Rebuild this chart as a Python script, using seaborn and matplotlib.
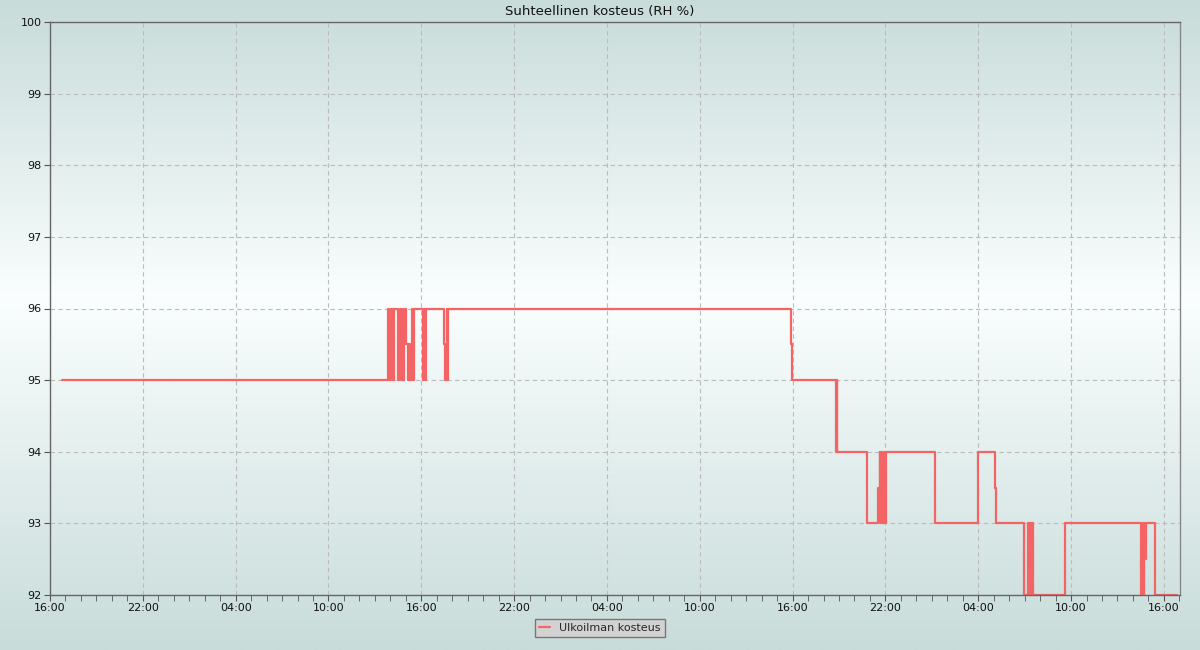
import numpy as np
import pandas as pd
import seaborn as sns
import matplotlib.pyplot as plt
import matplotlib.dates as mdates
from matplotlib.colors import LinearSegmentedColormap

# hours after the start of the window (16:00) and RH readings, step data
hours = [0.77, 21.84, 21.94, 22.04, 22.14, 22.24,
         22.49, 22.62, 22.75, 22.88, 23.01, 23.14, 23.20,
         23.27, 23.37, 23.47, 23.54,
         24.10, 24.20, 24.25, 24.30,
         25.47, 25.55, 25.65, 25.69, 25.73,
         47.89, 47.99,
         50.81, 50.85, 50.89,
         52.81,
         53.55, 53.62, 53.68, 53.74, 53.80, 53.90, 53.97, 54.03,
         57.21,
         59.99,
         61.09, 61.15,
         62.97,
         63.24, 63.31, 63.37, 63.44, 63.49, 63.53,
         65.61,
         70.53, 70.59, 70.65, 70.71, 70.77, 70.83,
         71.43,
         72.85]
rh = [95, 96, 95, 96, 95, 96,
      95, 96, 95, 96, 95.5, 95, 95.5,
      95, 96, 95, 96,
      95, 96, 95, 96,
      95.5, 95, 96, 95, 96,
      95.5, 95,
      94, 95, 94,
      93,
      93.5, 94, 93, 94, 93, 94, 93, 94,
      93,
      94,
      93.5, 93,
      92,
      93, 92, 93, 92, 93, 92,
      93,
      92, 93, 92, 93, 92.5, 93,
      92,
      92]

start = pd.Timestamp("2024-01-01 16:00")
times = start + pd.to_timedelta(hours, unit="h")
df = pd.DataFrame({"Aika": times, "RH": rh})

sns.set_style("ticks")
plt.rcParams["font.family"] = ["DejaVu Sans"]

fig = plt.figure(figsize=(12, 6.5), dpi=100)

# gradient background over whole figure
bg = fig.add_axes([0, 0, 1, 1], zorder=-10)
cmap = LinearSegmentedColormap.from_list(
    "bg", [(0.0, "#c8dcda"), (0.46, "#fafefe"), (1.0, "#c8dcda")])
bg.imshow(np.linspace(0, 1, 256).reshape(-1, 1), cmap=cmap, aspect="auto",
          extent=[0, 1, 0, 1])
bg.axis("off")

ax = fig.add_axes([50 / 1200, 55 / 650, 1130 / 1200, 573 / 650])
ax.set_facecolor("none")

sns.lineplot(data=df, x="Aika", y="RH", ax=ax, drawstyle="steps-post",
             color="#f46464", linewidth=1.6, label="Ulkoilman kosteus",
             legend=False)

ax.set_xlim(start, start + pd.Timedelta(hours=73.04))
ax.set_ylim(92, 100)
ax.set_yticks(range(92, 101))
ax.xaxis.set_major_locator(mdates.HourLocator(byhour=[4, 10, 16, 22]))
ax.xaxis.set_major_formatter(mdates.DateFormatter("%H:%M"))
ax.xaxis.set_minor_locator(mdates.HourLocator(interval=1))
ax.tick_params(axis="both", which="major", labelsize=8, length=4,
               color="#555555", labelcolor="#111111", pad=2)
ax.tick_params(axis="x", which="minor", length=4, color="#555555")
ax.set_xlabel("")
ax.set_ylabel("")

ax.grid(True, which="major", color="#bbbbbb", linestyle=(0, (4, 3)),
        linewidth=0.8)
for side in ["left", "bottom", "top", "right"]:
    ax.spines[side].set_visible(True)
    ax.spines[side].set_color("#666666")
    ax.spines[side].set_linewidth(1)
ax.spines["right"].set_color("#888888")

fig.text(0.5, 1 - 11 / 650, "Suhteellinen kosteus (RH %)", ha="center",
         va="center", fontsize=9.5, color="#111111")

handles, labels = ax.get_legend_handles_labels()
fig.legend(handles, labels, loc="center", bbox_to_anchor=(0.5, 22 / 650),
           fontsize=8, frameon=True, fancybox=False, framealpha=1,
           facecolor="#d2d2d2", edgecolor="#777777", handlelength=1.0,
           borderpad=0.4)

fig.savefig("out.png", dpi=100)
